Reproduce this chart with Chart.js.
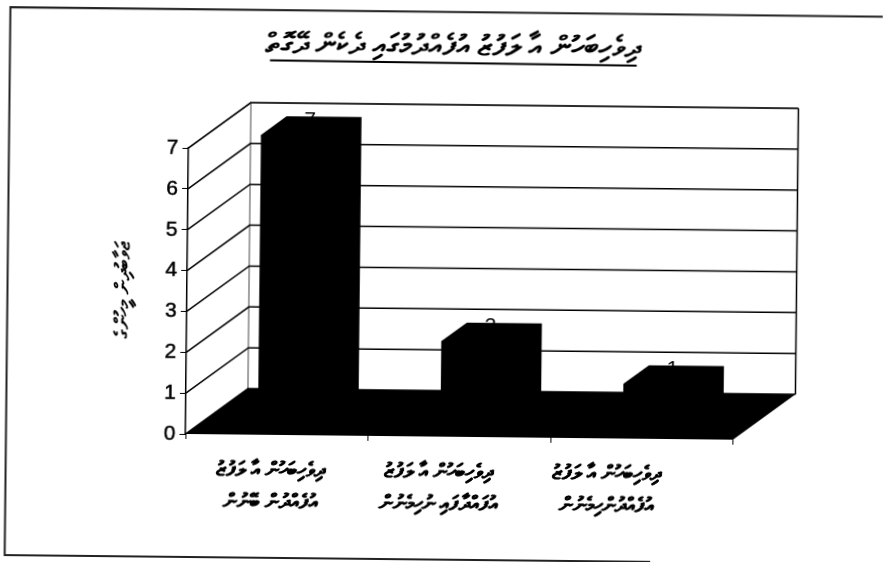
<!DOCTYPE html>
<html>
<head>
<meta charset="utf-8">
<style>
  html, body { margin: 0; padding: 0; background: #fff; overflow: hidden; }
  #wrap { width: 883px; height: 562px; overflow: hidden; }
  /* the page was scanned a little crooked */
  #chart { transform: rotate(0.6deg); transform-origin: 0 0; }
</style>
<script src="https://cdn.jsdelivr.net/npm/chart.js@4"></script>
</head>
<body>
<div id="wrap"><canvas id="chart" width="883" height="562"></canvas></div>
<script>
const titleText = 'ދިވެހިބަހުން އާ ލަފުޒު އުފެއްދުމުގައި ދެކެން ދޭގޮތް';
const yTitleText = 'ޖަވާބުދިން މީހުންގެ';
const categories = [
  ['ދިވެހިބަހުން އާ ލަފުޒު', 'އުފެއްދުން ބޭނުން'],
  ['ދިވެހިބަހުން އާ ލަފުޒު', 'އުފައްދާފައި ނުހިމެނުން'],
  ['ދިވެހިބަހުން އާ ލަފުޒު', 'އުފެއްދުންހިމެނުން']
];
const values = [7, 2, 1];

// how far the back wall sits behind the front plane
const wallDx = 62, wallDy = -46;
// bar front and back, as a part of the floor depth
const barFront = 0.3, barBack = 0.71;

const depth3d = {
  id: 'depth3d',
  afterLayout(chart) {
    // title is centred over the whole frame, not over the axes
    chart.titleBlock.left += 30;
    chart.titleBlock.right += 30;
  },
  beforeDatasetsDraw(chart) {
    const {ctx, scales: {x, y}} = chart;
    const l = x.left, r = x.right, b = y.bottom;
    ctx.save();
    ctx.lineWidth = 1.2;
    ctx.strokeStyle = '#666';
    // back wall edges
    ctx.beginPath();
    ctx.moveTo(l + wallDx, b + wallDy);
    ctx.lineTo(l + wallDx, y.top + wallDy);
    ctx.lineTo(r + wallDx, y.top + wallDy);
    ctx.stroke();
    ctx.strokeStyle = '#000';
    ctx.lineWidth = 1.5;
    ctx.beginPath();
    ctx.moveTo(l, y.top);
    ctx.lineTo(l + wallDx, y.top + wallDy);
    ctx.moveTo(r + wallDx, y.top + wallDy);
    ctx.lineTo(r + wallDx, b + wallDy);
    ctx.stroke();
    // grid on side wall and back wall
    y.ticks.forEach(t => {
      const py = y.getPixelForValue(t.value);
      ctx.beginPath();
      ctx.moveTo(l, py);
      ctx.lineTo(l + wallDx, py + wallDy);
      ctx.lineTo(r + wallDx, py + wallDy);
      ctx.stroke();
    });
    // floor
    ctx.fillStyle = '#000';
    ctx.beginPath();
    ctx.moveTo(l, b);
    ctx.lineTo(r, b);
    ctx.lineTo(r + wallDx, b + wallDy);
    ctx.lineTo(l + wallDx, b + wallDy);
    ctx.closePath();
    ctx.fill();
    ctx.restore();
  },
  beforeDatasetDraw(chart) {
    const {ctx} = chart;
    const meta = chart.getDatasetMeta(0);
    // value labels stand behind the bars
    ctx.save();
    ctx.fillStyle = '#000';
    ctx.font = '21px "Liberation Sans"';
    ctx.textAlign = 'center';
    ctx.textBaseline = 'alphabetic';
    meta.data.forEach((bar, i) => {
      ctx.fillText(values[i], bar.x + 30, bar.y - 23.5);
    });
    ctx.restore();
    // top and side of each bar
    const dx = wallDx * (barBack - barFront), dy = wallDy * (barBack - barFront);
    ctx.save();
    ctx.translate(wallDx * barFront, wallDy * barFront);
    ctx.fillStyle = '#000';
    meta.data.forEach(bar => {
      const left = bar.x - bar.width / 2, right = bar.x + bar.width / 2;
      ctx.beginPath();
      ctx.moveTo(left, bar.y);
      ctx.lineTo(left + dx, bar.y + dy);
      ctx.lineTo(right + dx, bar.y + dy);
      ctx.lineTo(right + dx, bar.base + dy);
      ctx.lineTo(right, bar.base);
      ctx.closePath();
      ctx.fill();
    });
    // leave the translate on for the bars themselves
  },
  afterDatasetDraw(chart) {
    chart.ctx.restore();
  },
  afterDraw(chart) {
    const {ctx, scales: {x}} = chart;
    ctx.save();
    // category labels sit closer together than the bars, so placed by hand
    ctx.fillStyle = '#000';
    ctx.strokeStyle = '#000';
    ctx.lineWidth = 0.5;
    ctx.font = 'bold 20px "Noto Sans"';
    ctx.textAlign = 'center';
    ctx.textBaseline = 'middle';
    categories.forEach((lines, i) => {
      const cx = x.getPixelForTick(i) - 6 - 14.5 * i;
      lines.forEach((line, j) => {
        ctx.fillText(line, cx, 467 + j * 32);
        ctx.strokeText(line, cx, 467 + j * 32);
      });
    });
    // title underline and outer frame
    ctx.lineWidth = 2;
    ctx.beginPath();
    ctx.moveTo(270.6, 57.5);
    ctx.lineTo(637.4, 59);
    ctx.stroke();
    ctx.strokeStyle = '#222';
    ctx.beginPath();
    ctx.moveTo(883, 7.5);
    ctx.lineTo(10.5, 7);
    ctx.lineTo(10.5, 555);
    ctx.lineTo(656, 555);
    ctx.stroke();
    ctx.restore();
  }
};

new Chart(document.getElementById('chart'), {
  type: 'bar',
  data: {
    labels: categories,
    datasets: [{
      data: values,
      backgroundColor: '#000',
      barPercentage: 0.822,
      categoryPercentage: 0.5
    }]
  },
  options: {
    responsive: false,
    animation: false,
    layout: { autoPadding: false, padding: { left: 110, right: 145.5, top: 16, bottom: 30 } },
    plugins: {
      legend: { display: false },
      tooltip: { enabled: false },
      title: {
        display: true,
        text: titleText,
        color: '#000',
        font: { family: '"Noto Sans"', size: 29, weight: 'bold', lineHeight: 1.2 },
        padding: { top: 8, bottom: 87.2 }
      }
    },
    scales: {
      x: {
        afterFit(scale) { scale.height = 100; },
        grid: { drawOnChartArea: false, drawTicks: true, tickLength: 5, color: '#000' },
        border: { display: false },
        ticks: { display: false }
      },
      y: {
        min: 0,
        max: 7,
        afterFit(scale) { scale.width = 80; },
        grid: { drawOnChartArea: false, drawTicks: true, tickLength: 6, color: '#000' },
        border: { display: true, color: '#000', width: 1.5 },
        title: {
          display: true,
          text: yTitleText,
          color: '#000',
          font: { family: '"Noto Sans"', size: 20, weight: 'bold' },
          padding: { top: 4, bottom: 0 }
        },
        ticks: {
          stepSize: 1,
          padding: 4,
          color: '#000',
          textStrokeColor: '#000',
          textStrokeWidth: 0.5,
          font: { family: '"Liberation Sans"', size: 21 }
        }
      }
    }
  },
  plugins: [depth3d]
});
</script>
</body>
</html>
